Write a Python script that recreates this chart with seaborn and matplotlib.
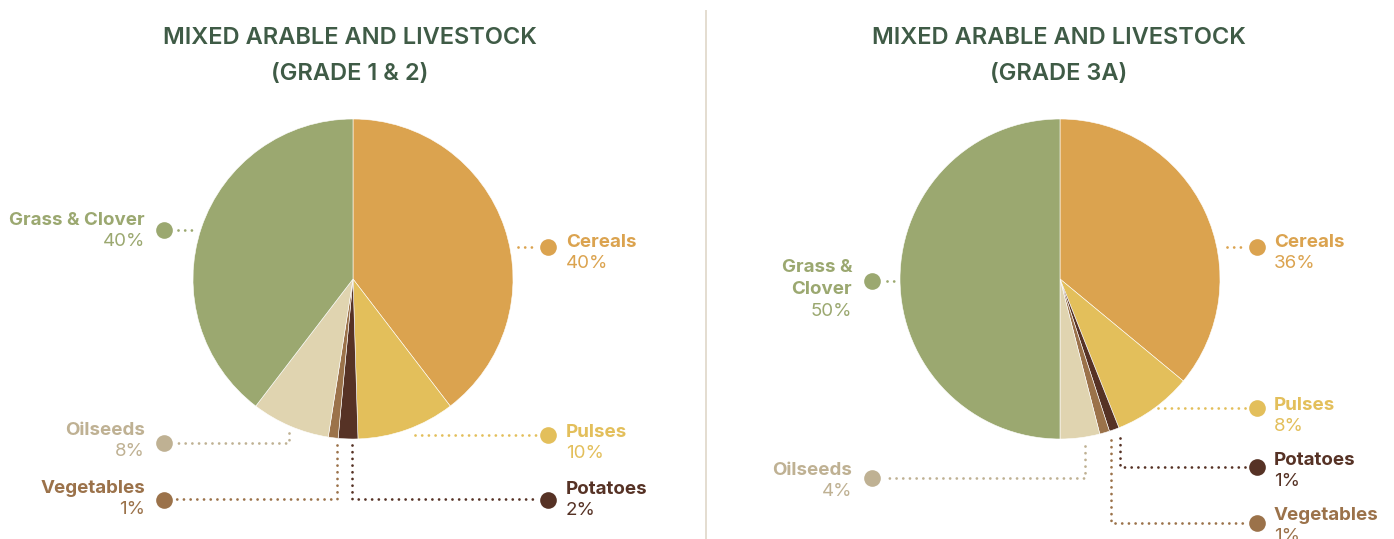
import matplotlib
matplotlib.use("Agg")
import matplotlib.pyplot as plt
import seaborn as sns

# ---------------- data ----------------
categories = ["Cereals", "Pulses", "Potatoes", "Vegetables", "Oilseeds", "Grass & Clover"]
grade12_values = [40, 10, 2, 1, 8, 40]
grade3a_values = [36, 8, 1, 1, 4, 50]
grade3a_names = ["Cereals", "Pulses", "Potatoes", "Vegetables", "Oilseeds", "Grass &\nClover"]
titles = ["MIXED ARABLE AND LIVESTOCK\n(GRADE 1 & 2)",
          "MIXED ARABLE AND LIVESTOCK\n(GRADE 3A)"]

# ---------------- styles ----------------
slice_colors = ["#DBA34F", "#E3BF5B", "#563225", "#9B724A", "#E0D4B0", "#9BA870"]
label_colors = ["#DBA34F", "#E3BF5B", "#563225", "#9B724A", "#BFB193", "#9BA870"]
title_color = "#3F5B46"
divider_color = "#E2DACD"

sns.set_theme(style="white")
plt.rcParams["font.family"] = ["Inter", "DejaVu Sans"]

W, H = 1394, 539
fig = plt.figure(figsize=(W / 100, H / 100), dpi=100)
ax = fig.add_axes([0, 0, 1, 1])

# layout (pixel coords, y downwards)
pies = [
    dict(values=grade12_values, names=categories, center=(353, 279), radius=160,
         title=titles[0], title_x=350,
         dots=[(548, 247), (548, 435), (548, 500), (164, 500), (164, 443), (164, 230)],
         side=["R", "R", "R", "L", "L", "L"],
         name_base=[247, 437, 494, 493, 435, 225],
         text_x_r=566, text_x_l=145,
         lines=[[(518, 247), (538, 247)],
                [(415, 435), (538, 435)],
                [(352, 445), (352, 499), (538, 499)],
                [(337, 445), (337, 499), (176, 499)],
                [(289, 433), (289, 443), (176, 443)],
                [(178, 230), (197, 230)]]),
    dict(values=grade3a_values, names=grade3a_names, center=(1060, 279), radius=160,
         title=titles[1], title_x=1059,
         dots=[(1257, 247), (1257, 408), (1257, 467), (1257, 523), (872, 478), (872, 281)],
         side=["R", "R", "R", "R", "L", "L"],
         name_base=[247, 410, 465, 520, 475, 272],
         text_x_r=1274, text_x_l=852,
         lines=[[(1227, 247), (1246, 247)],
                [(1158, 408), (1246, 408)],
                [(1120, 438), (1120, 467), (1246, 467)],
                [(1111, 440), (1111, 523), (1246, 523)],
                [(1085, 446), (1085, 478), (884, 478)],
                [(887, 281), (897, 281)]]),
]

for p in pies:
    ax.pie(p["values"], colors=slice_colors, center=p["center"], radius=p["radius"],
           startangle=-90, counterclock=True,
           wedgeprops=dict(linewidth=0.4, edgecolor="white"))

for p in pies:
    # title
    t1, t2 = p["title"].split("\n")
    ax.text(p["title_x"], 44, t1, ha="center", va="baseline", fontsize=17,
            color=title_color, fontweight="semibold")
    ax.text(p["title_x"], 80, t2, ha="center", va="baseline", fontsize=17,
            color=title_color, fontweight="semibold")
    for i, v in enumerate(p["values"]):
        col = label_colors[i]
        pts = p["lines"][i]
        ax.plot([q[0] for q in pts], [q[1] for q in pts], color=col, lw=2.0,
                linestyle=(0, (0.01, 2.4)), dash_capstyle="round", solid_capstyle="round")
        dx, dy = p["dots"][i]
        ax.plot([dx], [dy], "o", ms=12, color=col, markeredgewidth=0)
        right = p["side"][i] == "R"
        tx = p["text_x_r"] if right else p["text_x_l"]
        ha = "left" if right else "right"
        y = p["name_base"][i]
        for ln in p["names"][i].split("\n"):
            ax.text(tx, y, ln, ha=ha, va="baseline", fontsize=13.5, fontweight="bold", color=col)
            y += 22.5
        ax.text(tx, y - 1.5, f"{v}%", ha=ha, va="baseline", fontsize=13.5,
                fontweight="normal", color=col)

# divider
ax.plot([706, 706], [10, 539], color=divider_color, lw=1.3, solid_capstyle="butt")

ax.set_xlim(0, W)
ax.set_ylim(H, 0)
ax.set_aspect("equal")
ax.axis("off")

fig.savefig("out.png", dpi=100, facecolor="white")
